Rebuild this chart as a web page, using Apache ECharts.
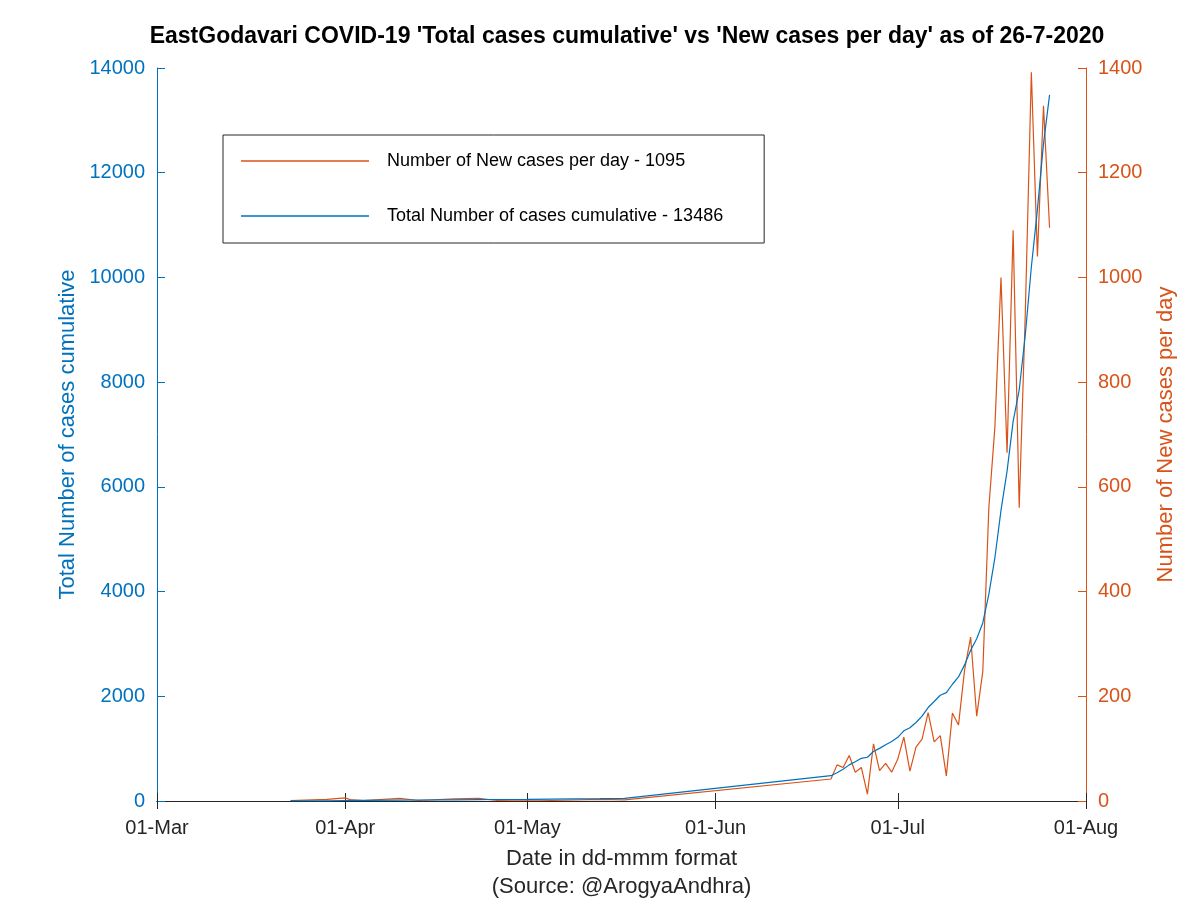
<!DOCTYPE html>
<html>
<head>
<meta charset="utf-8">
<title>EastGodavari COVID-19</title>
<script src="https://cdn.jsdelivr.net/npm/echarts@6/dist/echarts.min.js"></script>
<style>
  html, body { margin: 0; padding: 0; background: #fff; }
  #chart { width: 1200px; height: 900px; }
</style>
</head>
<body>
<div id="chart"></div>
<script>
// dates of the reported points (sparse in spring, daily from 20 Jun)
var dates = [
  '2020-03-23', '2020-03-29', '2020-04-01', '2020-04-02', '2020-04-04',
  '2020-04-10', '2020-04-13', '2020-04-19', '2020-04-23', '2020-04-26',
  '2020-05-01', '2020-05-05', '2020-05-13', '2020-05-17',
  '2020-06-20', '2020-06-21', '2020-06-22', '2020-06-23', '2020-06-24',
  '2020-06-25', '2020-06-26', '2020-06-27', '2020-06-28', '2020-06-29',
  '2020-06-30', '2020-07-01', '2020-07-02', '2020-07-03', '2020-07-04',
  '2020-07-05', '2020-07-06', '2020-07-07', '2020-07-08', '2020-07-09',
  '2020-07-10', '2020-07-11', '2020-07-12', '2020-07-13', '2020-07-14',
  '2020-07-15', '2020-07-16', '2020-07-17', '2020-07-18', '2020-07-19',
  '2020-07-20', '2020-07-21', '2020-07-22', '2020-07-23', '2020-07-24',
  '2020-07-25', '2020-07-26'
]
// new cases per day (right axis)
var newCases = [
  1, 3, 6, 2, 1,
  5, 1, 4, 5, 1,
  2, 1, 3, 2,
  42, 69, 64, 87, 55,
  64, 13, 109, 58, 72,
  55, 80, 122, 57, 103,
  118, 169, 113, 125, 48,
  168, 145, 250, 313, 162,
  247, 560, 715, 1000, 665,
  1090, 560, 930, 1392, 1040,
  1328, 1095
]
// total cases cumulative (left axis)
var totalCases = [
  1, 4, 10, 12, 13,
  18, 19, 23, 28, 29,
  31, 36, 45, 51,
  483, 540, 605, 690, 750,
  815, 835, 945, 1005, 1075,
  1135, 1216, 1340, 1400, 1500,
  1620, 1785, 1900, 2020, 2070,
  2230, 2370, 2600, 2880, 3100,
  3400, 3950, 4650, 5550, 6300,
  7250, 7850, 8900, 10200, 11300,
  12550, 13486
]

var blue = '#0072BD'
var orange = '#D95319'
var dark = '#262626'
var font = 'Liberation Sans, Arial, Helvetica, sans-serif'
var lineIcon = 'path://M0,0H100V1H0Z'

var chart = echarts.init(document.getElementById('chart'))
chart.setOption({
  animation: false,
  backgroundColor: '#fff',
  textStyle: { fontFamily: font },
  title: {
    text: "EastGodavari COVID-19 'Total cases cumulative' vs 'New cases per day' as of 26-7-2020",
    left: 622,
    textAlign: 'center',
    top: 20,
    textStyle: { fontFamily: font, fontSize: 23, fontWeight: 'bold', color: '#000' }
  },
  legend: {
    orient: 'vertical',
    left: 223,
    top: 135,
    padding: [17, 41, 18, 18],
    itemWidth: 128,
    itemHeight: 18,
    itemGap: 37,
    borderColor: dark,
    borderWidth: 1,
    backgroundColor: '#fff',
    textStyle: { fontFamily: font, fontSize: 18, color: '#000', padding: [0, 0, 0, 13] },
    data: [
      { name: 'Number of New cases per day - 1095', icon: lineIcon },
      { name: 'Total Number of cases cumulative - 13486', icon: lineIcon }
    ]
  },
  grid: { left: 157, right: 114, top: 68, bottom: 99, outerBoundsMode: 'none', containLabel: false },
  xAxis: [{
    type: 'time',
    min: '2020-03-01',
    max: '2020-08-01',
    splitNumber: 5,
    name: 'Date in dd-mmm format\n(Source: @ArogyaAndhra)',
    nameLocation: 'middle',
    nameGap: 44,
    nameTextStyle: { fontFamily: font, fontSize: 22, color: dark, lineHeight: 28 },
    axisLine: { lineStyle: { color: dark, width: 1 } },
    axisTick: { inside: true, length: 8, lineStyle: { color: dark } },
    axisLabel: {
      formatter: '{dd}-{MMM}',
      fontFamily: font, fontSize: 20, color: dark, margin: 17,
      showMinLabel: true, showMaxLabel: true
    },
    splitLine: { show: false }
  }, {
    type: 'time',
    position: 'top',
    min: '2020-03-01',
    max: '2020-08-01',
    splitNumber: 5,
    axisLine: { lineStyle: { color: dark, width: 1 } },
    axisTick: { inside: true, length: 8, lineStyle: { color: dark } },
    axisLabel: { show: false },
    splitLine: { show: false }
  }],
  yAxis: [{
    type: 'value',
    min: 0,
    max: 14000,
    interval: 2000,
    position: 'left',
    name: 'Total Number of cases cumulative',
    nameLocation: 'middle',
    nameGap: 75,
    nameTextStyle: { fontFamily: font, fontSize: 22, color: blue },
    axisLine: { show: true, lineStyle: { color: blue } },
    axisTick: { show: true, inside: true, length: 8, lineStyle: { color: blue } },
    axisLabel: {
      fontFamily: font, fontSize: 20, color: blue, margin: 12,
      formatter: function (v) { return String(v) }
    },
    splitLine: { show: false }
  }, {
    type: 'value',
    min: 0,
    max: 1400,
    interval: 200,
    position: 'right',
    name: 'Number of New cases per day',
    nameLocation: 'middle',
    nameGap: 69,
    nameTextStyle: { fontFamily: font, fontSize: 22, color: orange },
    axisLine: { show: true, lineStyle: { color: orange } },
    axisTick: { show: true, inside: true, length: 8, lineStyle: { color: orange } },
    axisLabel: {
      fontFamily: font, fontSize: 20, color: orange, margin: 12,
      formatter: function (v) { return String(v) }
    },
    splitLine: { show: false }
  }],
  series: [{
    name: 'Number of New cases per day - 1095',
    type: 'line',
    xAxisIndex: 0,
    yAxisIndex: 1,
    symbol: 'none',
    lineStyle: { color: orange, width: 1.2 },
    itemStyle: { color: orange },
    data: dates.map(function (d, i) { return [d, newCases[i]] })
  }, {
    name: 'Total Number of cases cumulative - 13486',
    type: 'line',
    xAxisIndex: 0,
    yAxisIndex: 0,
    symbol: 'none',
    lineStyle: { color: blue, width: 1.2 },
    itemStyle: { color: blue },
    data: dates.map(function (d, i) { return [d, totalCases[i]] })
  }]
})
</script>
</body>
</html>
